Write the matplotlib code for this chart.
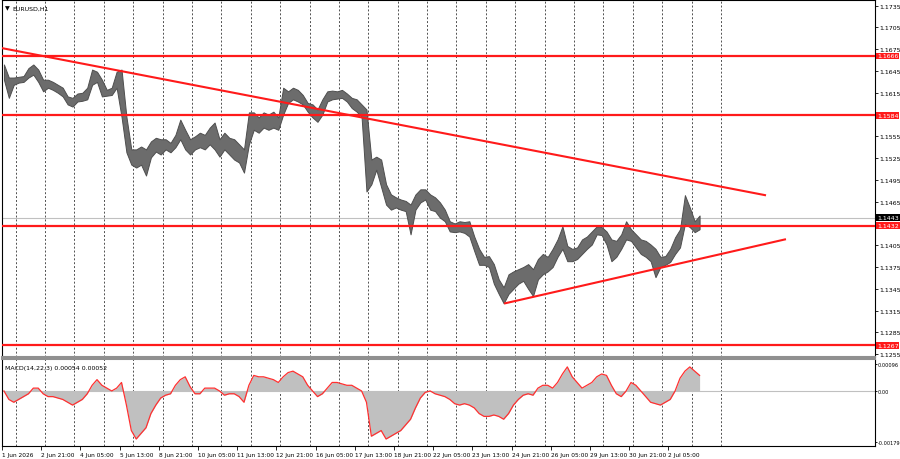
# ----------------------------------------------------------------------
#   Imports
# ----------------------------------------------------------------------

import numpy as np
import matplotlib
matplotlib.use('Agg')
import matplotlib.pyplot as plt
from matplotlib import font_manager

# narrow font for the MT4-style scale labels, if it is there
try:
    font_manager.findfont('Liberation Sans Narrow', fallback_to_default=False)
    FONT = ['Liberation Sans Narrow', 'DejaVu Sans']
    FS = 5.7
except Exception:
    FONT = ['DejaVu Sans']
    FS = 4.5
matplotlib.rc('font', family=FONT)

# ----------------------------------------------------------------------
#   Data  (EURUSD H1 in 4-hour blocks)
# ----------------------------------------------------------------------

block_hours = 4
first_bar = 13      # 1 Jun 13:00, first bar on screen

block_high = [
    1.1654, 1.1636, 1.1636, 1.1637, 1.1638, 1.1649, 1.1654, 1.1647, 1.1633, 1.1633,
    1.1630, 1.1626, 1.1622, 1.1610, 1.1608, 1.1614, 1.1615, 1.1622, 1.1647, 1.1644,
    1.1633, 1.1619, 1.1622, 1.1644, 1.1647, 1.1582, 1.1537, 1.1537, 1.1541, 1.1537,
    1.1548, 1.1553, 1.1551, 1.1551, 1.1546, 1.1557, 1.1578, 1.1564, 1.1551, 1.1555,
    1.1560, 1.1557, 1.1567, 1.1574, 1.1551, 1.1560, 1.1553, 1.1551, 1.1544, 1.1537,
    1.1588, 1.1588, 1.1581, 1.1588, 1.1585, 1.1589, 1.1581, 1.1622, 1.1617, 1.1622,
    1.1619, 1.1612, 1.1601, 1.1599, 1.1592, 1.1606, 1.1617, 1.1618, 1.1617, 1.1619,
    1.1614, 1.1608, 1.1606, 1.1599, 1.1592, 1.1523, 1.1527, 1.1523, 1.1489, 1.1475,
    1.1471, 1.1468, 1.1466, 1.1461, 1.1475, 1.1482, 1.1482, 1.1475, 1.1471, 1.1464,
    1.1454, 1.1438, 1.1435, 1.1438, 1.1437, 1.1438, 1.1417, 1.1400, 1.1389, 1.1390,
    1.1379, 1.1358, 1.1347, 1.1365, 1.1369, 1.1372, 1.1375, 1.1379, 1.1372, 1.1386,
    1.1393, 1.1389, 1.1400, 1.1413, 1.1431, 1.1404, 1.1400, 1.1402, 1.1413, 1.1417,
    1.1424, 1.1431, 1.1430, 1.1424, 1.1413, 1.1411, 1.1420, 1.1438, 1.1427, 1.1420,
    1.1413, 1.1411, 1.1406, 1.1400, 1.1389, 1.1390, 1.1400, 1.1416, 1.1427, 1.1474,
    1.1457, 1.1438, 1.1446,
]

block_low = [
    1.1633, 1.1608, 1.1626, 1.1629, 1.1630, 1.1636, 1.1640, 1.1630, 1.1617, 1.1622,
    1.1619, 1.1615, 1.1610, 1.1599, 1.1596, 1.1603, 1.1604, 1.1606, 1.1626, 1.1630,
    1.1610, 1.1611, 1.1612, 1.1622, 1.1582, 1.1533, 1.1516, 1.1512, 1.1516, 1.1501,
    1.1526, 1.1534, 1.1530, 1.1537, 1.1533, 1.1540, 1.1551, 1.1537, 1.1530, 1.1537,
    1.1540, 1.1537, 1.1544, 1.1537, 1.1527, 1.1537, 1.1530, 1.1523, 1.1519, 1.1505,
    1.1544, 1.1564, 1.1560, 1.1567, 1.1564, 1.1567, 1.1564, 1.1585, 1.1601, 1.1606,
    1.1603, 1.1599, 1.1589, 1.1581, 1.1575, 1.1585, 1.1603, 1.1606, 1.1607, 1.1608,
    1.1603, 1.1594, 1.1589, 1.1582, 1.1479, 1.1489, 1.1509, 1.1485, 1.1461, 1.1454,
    1.1457, 1.1454, 1.1452, 1.1420, 1.1454, 1.1464, 1.1468, 1.1454, 1.1452, 1.1443,
    1.1438, 1.1424, 1.1423, 1.1424, 1.1422, 1.1417, 1.1397, 1.1378, 1.1378, 1.1375,
    1.1352, 1.1338, 1.1325, 1.1338, 1.1345, 1.1352, 1.1356, 1.1345, 1.1335, 1.1358,
    1.1365, 1.1369, 1.1375, 1.1389, 1.1400, 1.1383, 1.1383, 1.1386, 1.1393, 1.1400,
    1.1406, 1.1420, 1.1419, 1.1406, 1.1383, 1.1389, 1.1400, 1.1413, 1.1411, 1.1402,
    1.1393, 1.1389, 1.1383, 1.1361, 1.1375, 1.1378, 1.1382, 1.1393, 1.1402, 1.1434,
    1.1430, 1.1423, 1.1427,
]

macd_hist = [
    0.0000, -0.0003, -0.0004, -0.0003, -0.0002, -0.0001, 0.0001, 0.0001, -0.0001, -0.0002,
    -0.0002, -0.00025, -0.0003, -0.0004, -0.0005, -0.0004, -0.0003, -0.0001, 0.0002, 0.0004,
    0.0002, 0.0001, 0.0000, 0.0001, 0.0003, -0.0005, -0.0014, -0.0017, -0.0015, -0.0013,
    -0.0008, -0.0005, -0.00025, -0.00015, -0.0001, 0.0002, 0.0004, 0.0005, 0.00015, -0.0001,
    -0.0001, 0.0001, 0.0001, 0.0001, 0.0000, -0.00015, -0.0001, -0.0001, -0.0002, -0.0004,
    0.0002, 0.00055, 0.0005, 0.0005, 0.00045, 0.0004, 0.0003, 0.0005, 0.00065, 0.0007,
    0.0006, 0.0005, 0.0002, 0.0000, -0.0002, -0.0001, 0.0001, 0.0003, 0.0003, 0.00025,
    0.0002, 0.0002, 0.0001, 0.0000, -0.0004, -0.0016, -0.0015, -0.0014, -0.0017, -0.0016,
    -0.0015, -0.0014, -0.0012, -0.0010, -0.0006, -0.00025, -0.00005, 0.0000, -0.0001, -0.00015,
    -0.0002, -0.0003, -0.00045, -0.0005, -0.00045, -0.0005, -0.0006, -0.0008, -0.0009, -0.0009,
    -0.00085, -0.0009, -0.0010, -0.0008, -0.0005, -0.0003, -0.00015, -0.0001, -0.00015, 0.0001,
    0.0002, 0.0002, 0.0001, 0.0003, 0.0006, 0.00085, 0.0005, 0.0003, 0.0001, 0.0002,
    0.0003, 0.0005, 0.0006, 0.00055, 0.0002, -0.0001, -0.0002, 0.0000, 0.0003, 0.0002,
    0.0000, -0.0002, -0.0004, -0.00045, -0.0005, -0.0004, -0.0003, 0.0000, 0.00045, 0.0007,
    0.00085, 0.0007, 0.00055,
]

levels = [1.1666, 1.1584, 1.1432, 1.1267]
bid = 1.1443

# trend lines: (bar index, price) end points
trend_down_bars   = [11.4, 635.9]
trend_down_prices = [1.1677, 1.1474]
trend_up_bars     = [423.7, 652.2]
trend_up_prices   = [1.1325, 1.1413]

price_ticks = [1.1735, 1.1705, 1.1675, 1.1645, 1.1615, 1.1555, 1.1525, 1.1495,
               1.1465, 1.1405, 1.1375, 1.1345, 1.1315, 1.1285, 1.1255]
macd_ticks = [0.00096, 0.0, -0.00179]
macd_tick_labels = ['0.00096', '0.00', '-0.00179']

time_labels = ['1 Jun 2026', '2 Jun 21:00', '4 Jun 05:00', '5 Jun 13:00', '8 Jun 21:00',
               '10 Jun 05:00', '11 Jun 13:00', '12 Jun 21:00', '16 Jun 05:00',
               '17 Jun 13:00', '18 Jun 21:00', '22 Jun 05:00', '23 Jun 13:00',
               '24 Jun 21:00', '26 Jun 05:00', '29 Jun 13:00', '30 Jun 21:00',
               '2 Jul 05:00']
label_step = 32     # bars between time labels
n_days = 25         # daily separators

# ----------------------------------------------------------------------
#   Main
# ----------------------------------------------------------------------

def main():

    hi = np.array(block_high)
    lo = np.array(block_low)
    md = np.array(macd_hist)
    x = first_bar + block_hours * np.arange(len(hi)) + 1.5

    xlims = [12.9, 725.7]
    grid_x = 24 * np.arange(1, n_days + 1)
    gridkw = dict(color='#505050', lw=0.7, ls=(0, (2, 2)), zorder=0)

    fig = plt.figure(figsize=(9, 4.6), dpi=100)
    ax1 = fig.add_axes([0.0022, 0.2217, 0.9700, 0.7761])
    ax2 = fig.add_axes([0.0022, 0.0293, 0.9700, 0.1881])

    # ---- price panel
    for gx in grid_x:
        ax1.axvline(gx, **gridkw)

    ax1.fill_between(x, lo, hi, facecolor='#6c6c6c', edgecolor='#4e4e4e',
                     lw=0.7, zorder=2)

    ax1.axhline(bid, color='#c0c0c0', lw=0.8, zorder=1)
    for lv in levels:
        ax1.axhline(lv, color='#ff1a1a', lw=1.6, zorder=3)
    ax1.plot(trend_down_bars, trend_down_prices, color='#ff1a1a', lw=1.5, zorder=3)
    ax1.plot(trend_up_bars, trend_up_prices, color='#ff1a1a', lw=1.5, zorder=3)

    ax1.set_xlim(xlims)
    ax1.set_ylim([1.1251, 1.17428])
    ax1.yaxis.tick_right()
    ax1.set_yticks(price_ticks)
    ax1.set_yticklabels(['%.4f' % p for p in price_ticks])
    ax1.tick_params(axis='y', labelsize=FS, length=2.5, width=0.6, pad=0.6)
    ax1.set_xticks([])

    boxes = [(lv, '#ff1a1a') for lv in levels] + [(bid, 'black')]
    for lv, c in boxes:
        ax1.annotate('%.4f' % lv, xy=(1.0, lv), xycoords=('axes fraction', 'data'),
                     xytext=(1.5, 0), textcoords='offset points', va='center', ha='left',
                     fontsize=FS, color='white',
                     bbox=dict(boxstyle='square,pad=0.12', fc=c, ec='none'))

    ax1.text(0.004, 0.985, u'\u25bc', transform=ax1.transAxes, fontsize=4.5,
             va='top', ha='left', family='DejaVu Sans')
    ax1.text(0.012, 0.985, 'EURUSD,H1', transform=ax1.transAxes, fontsize=FS,
             va='top', ha='left')

    for s in ax1.spines.values():
        s.set_linewidth(0.8)
    ax1.spines['bottom'].set_color('#909090')
    ax1.spines['bottom'].set_linewidth(1.5)

    # ---- MACD panel
    for gx in grid_x:
        ax2.axvline(gx, **gridkw)

    ax2.axhline(0, color='#c0c0c0', lw=0.8, zorder=1)
    ax2.fill_between(x, 0, md, color='#c0c0c0', lw=0, zorder=2)
    ax2.plot(x, md, color='#ff3030', lw=0.9, zorder=3)

    ax2.set_xlim(xlims)
    ax2.set_ylim([-0.00193, 0.00113])
    ax2.yaxis.tick_right()
    ax2.set_yticks(macd_ticks)
    ax2.set_yticklabels(macd_tick_labels)
    ax2.tick_params(axis='y', labelsize=FS - 0.9, length=1.5, width=0.6, pad=0.3)

    tx = first_bar + label_step * np.arange(len(time_labels))
    ax2.set_xticks(tx)
    ax2.set_xticklabels(time_labels, ha='left')
    ax2.tick_params(axis='x', labelsize=FS - 0.3, length=3, width=0.6, pad=1.5)

    ax2.text(0.004, 0.93, 'MACD(14,22,3) 0.00054 0.00052', transform=ax2.transAxes,
             fontsize=FS, va='top', ha='left')

    for s in ax2.spines.values():
        s.set_linewidth(0.8)
    ax2.spines['top'].set_color('#909090')
    ax2.spines['top'].set_linewidth(1.5)

    # save
    fig.savefig('out.png', dpi=100, facecolor='white')
    plt.close()

    return


# ----------------------------------------------------------------------
#   Call Main
# ----------------------------------------------------------------------

if __name__ == '__main__':
    main()
